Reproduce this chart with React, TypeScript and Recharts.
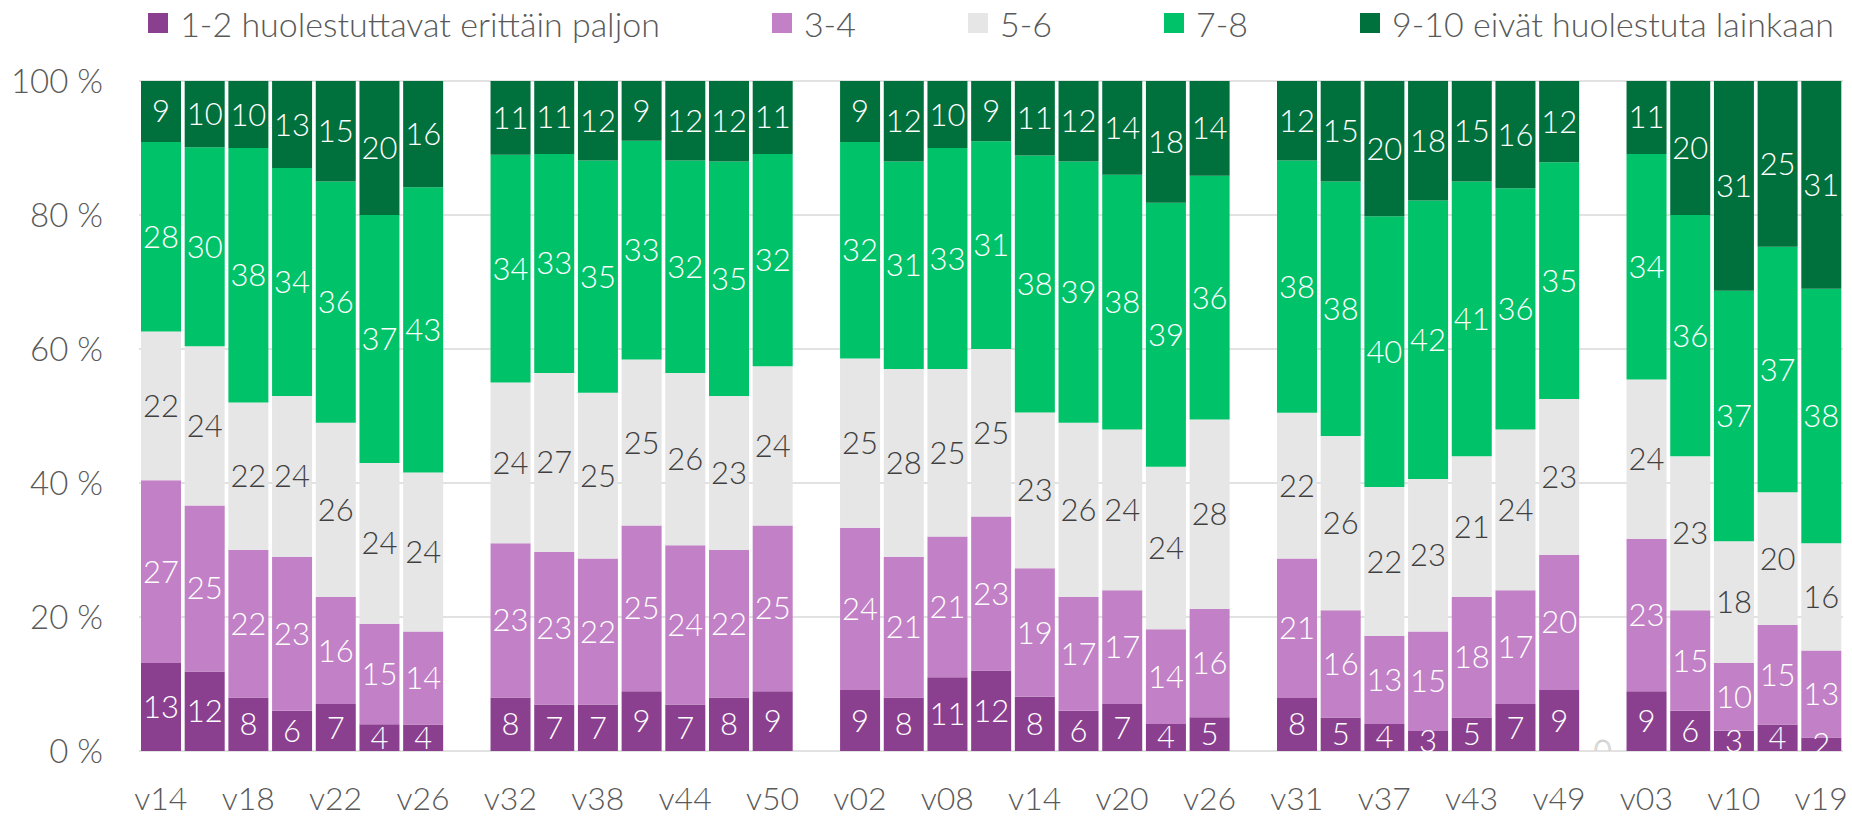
import React from 'react';
import { ComposedChart, Bar, Scatter, XAxis, YAxis, CartesianGrid, Legend, LabelList } from 'recharts';

const categories = [
  'v14', 'v16', 'v18', 'v20', 'v22', 'v24', 'v26', '',
  'v32', 'v35', 'v38', 'v41', 'v44', 'v47', 'v50', '',
  'v02', 'v05', 'v08', 'v11', 'v14', 'v17', 'v20', 'v23', 'v26', '',
  'v31', 'v34', 'v37', 'v40', 'v43', 'v46', 'v49', '',
  'v03', 'v06', 'v10', 'v14', 'v19',
];

const s1 = [13, 12, 8, 6, 7, 4, 4, null, 8, 7, 7, 9, 7, 8, 9, null, 9, 8, 11, 12, 8, 6, 7, 4, 5, null, 8, 5, 4, 3, 5, 7, 9, 0, 9, 6, 3, 4, 2];
const s2 = [27, 25, 22, 23, 16, 15, 14, null, 23, 23, 22, 25, 24, 22, 25, null, 24, 21, 21, 23, 19, 17, 17, 14, 16, null, 21, 16, 13, 15, 18, 17, 20, null, 23, 15, 10, 15, 13];
const s3 = [22, 24, 22, 24, 26, 24, 24, null, 24, 27, 25, 25, 26, 23, 24, null, 25, 28, 25, 25, 23, 26, 24, 24, 28, null, 22, 26, 22, 23, 21, 24, 23, null, 24, 23, 18, 20, 16];
const s4 = [28, 30, 38, 34, 36, 37, 43, null, 34, 33, 35, 33, 32, 35, 32, null, 32, 31, 33, 31, 38, 39, 38, 39, 36, null, 38, 38, 40, 42, 41, 36, 35, null, 34, 36, 37, 37, 38];
const s5 = [9, 10, 10, 13, 15, 20, 16, null, 11, 11, 12, 9, 12, 12, 11, null, 9, 12, 10, 9, 11, 12, 14, 18, 14, null, 12, 15, 20, 18, 15, 16, 12, null, 11, 20, 31, 25, 31];

const seriesNames = [
  '1-2 huolestuttavat erittäin paljon',
  '3-4',
  '5-6',
  '7-8',
  '9-10 eivät huolestuta lainkaan',
];
const seriesKeys = ['s1', 's2', 's3', 's4', 's5'];
const seriesColors = ['#8B3F8F', '#C280C6', '#E6E6E6', '#00C369', '#00703C'];
const labelColors = ['#FFFFFF', '#FFFFFF', '#404040', '#FFFFFF', '#FFFFFF'];
const yTicks = [0, 0.2, 0.4, 0.6, 0.8, 1];

const data = categories.map((c, i) => ({
  name: c,
  s1: s1[i],
  s2: s2[i],
  s3: s3[i],
  s4: s4[i],
  s5: s5[i],
  // zero-valued first-series entries, whose white label shows only as a faint outline
  zero: s1[i] === 0 && s2[i] === null ? 0 : null,
}));

const FONT = 'Lato, "Open Sans", sans-serif';
const TEXT_GRAY = '#595959';

const makeLabel = (color: string) => (props: any) => {
  const vb = props.viewBox || props;
  const { value } = props;
  if (value === null || value === undefined || Number(value) === 0) return null;
  const x = Number(vb.x);
  const y = Number(vb.y);
  const w = Number(vb.width);
  const h = Number(vb.height);
  if (!isFinite(x) || !isFinite(y)) return null;
  const cx = x + (isFinite(w) ? w / 2 : 0);
  const cy = y + (isFinite(h) ? h / 2 : 0);
  return (
    <text
      x={cx}
      y={cy}
      dy="0.355em"
      textAnchor="middle"
      fill={color}
      fontSize={31}
      fontFamily={FONT}
      fontWeight={300}
    >
      {value}
    </text>
  );
};

const ZeroShape = (props: any) => {
  const { cx, cy, payload } = props;
  if (!payload || payload.zero !== 0) return <g />;
  if (!isFinite(Number(cx)) || !isFinite(Number(cy))) return <g />;
  return (
    <text
      x={cx}
      y={cy}
      dy="0.355em"
      textAnchor="middle"
      fill="#FFFFFF"
      stroke="#CFCFCF"
      strokeWidth={1}
      fontSize={31}
      fontFamily={FONT}
      fontWeight={300}
    >
      0
    </text>
  );
};

const renderLegend = () => (
  <div
    style={{
      display: 'flex',
      justifyContent: 'center',
      alignItems: 'center',
      height: 46,
      gap: 112,
      fontFamily: FONT,
      fontWeight: 300,
      fontSize: 34,
      color: TEXT_GRAY,
      whiteSpace: 'nowrap',
    }}
  >
    {seriesNames.map((n, i) => (
      <div key={n} style={{ display: 'flex', alignItems: 'center' }}>
        <span style={{ display: 'inline-block', width: 20, height: 20, background: seriesColors[i], marginRight: 12 }} />
        <span>{n}</span>
      </div>
    ))}
  </div>
);

export default function App() {
  return (
    <div style={{ position: 'absolute', left: 0, top: 0, width: 1852, height: 817, background: '#fff', fontFamily: FONT }}>
      <ComposedChart
        width={1852}
        height={817}
        data={data}
        stackOffset="expand"
        barCategoryGap={2}
        margin={{ top: 35, right: 9, bottom: 0, left: 0 }}
      >
        <CartesianGrid vertical={false} stroke="#D9D9D9" strokeWidth={1.3} />
        <XAxis
          dataKey="name"
          interval={1}
          tickLine={false}
          axisLine={false}
          height={66}
          tickSize={6}
          tickMargin={30}
          tick={{ fill: TEXT_GRAY, fontSize: 32, fontFamily: FONT, fontWeight: 300 }}
        />
        <YAxis
          width={139}
          ticks={yTicks}
          domain={[0, 1]}
          allowDataOverflow
          tickFormatter={(v: number) => `${Math.round(v * 100)} %`}
          tickLine={false}
          axisLine={false}
          tickSize={6}
          tickMargin={30}
          tick={{ fill: TEXT_GRAY, fontSize: 33, fontFamily: FONT, fontWeight: 300 }}
        />
        <Legend
          verticalAlign="top"
          align="center"
          wrapperStyle={{ top: 0, left: 139, width: 1704, height: 46 }}
          content={renderLegend}
        />
        {seriesKeys.map((k, i) => (
          <Bar key={k} dataKey={k} name={seriesNames[i]} stackId="a" fill={seriesColors[i]} isAnimationActive={false}>
            <LabelList dataKey={k} content={makeLabel(labelColors[i])} />
          </Bar>
        ))}
        <Scatter dataKey="zero" shape={ZeroShape} isAnimationActive={false} legendType="none" />
      </ComposedChart>
    </div>
  );
}
